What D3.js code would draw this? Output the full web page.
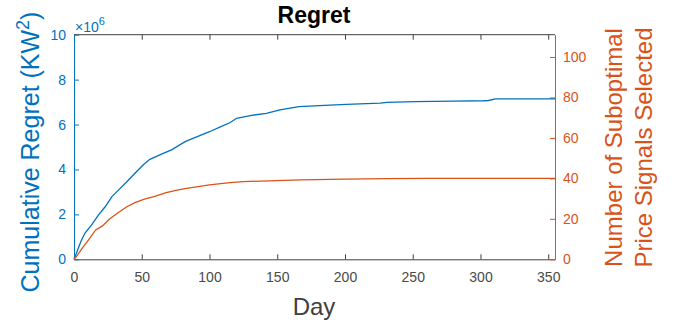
<!DOCTYPE html>
<html><head><meta charset="utf-8">
<script src="https://cdn.jsdelivr.net/npm/d3@7"></script>
<style>
body{margin:0;background:#fff;}
svg{display:block;font-family:"Liberation Sans",Arial,Helvetica,sans-serif;}
</style></head>
<body><svg id="c" width="677" height="327"></svg>
<script>
// Data
const regretDays   = [0,1,5,8,13,18,23,28,33,39,45,51,56,65,72,82,91,100,108,115,120,130,142,152,166,185,201,226,231,251,280,302,306,311,355];
const regretValues = [0,0.15e6,0.78e6,1.16e6,1.53e6,1.97e6,2.34e6,2.79e6,3.09e6,3.45e6,3.83e6,4.2e6,4.45e6,4.69e6,4.87e6,5.24e6,5.46e6,5.68e6,5.9e6,6.08e6,6.28e6,6.4e6,6.5e6,6.65e6,6.8e6,6.85e6,6.9e6,6.95e6,6.99e6,7.02e6,7.04e6,7.06e6,7.07e6,7.14e6,7.14e6];
const subDays   = [0,2,6,11,16,21,26,32,39,45,52,59,68,77,83,100,115,125,150,167,200,231,260,355];
const subValues = [0,1.6,5.4,9.9,14.5,16.5,19.8,22.8,26,28,29.7,31,33,34.3,35.1,36.8,37.9,38.4,38.9,39.3,39.6,39.9,40,40];
const xTicks = [0,50,100,150,200,250,300,350];
const leftTicks = [0,2,4,6,8,10];        // x 10^6
const rightTicks = [0,20,40,60,80,100];

const blue = "#0072BD", orange = "#D95319", dark = "#404040";
const L = 74, R = 555, T = 34.7, B = 259.3;
const svg = d3.select("#c");

const x = d3.scaleLinear().domain([0,355]).range([L,R]);
const yL = d3.scaleLinear().domain([0,10e6]).range([B,T]);
const yR = d3.scaleLinear().domain([0,111]).range([B,T]);

// top box line
svg.append("line").attr("x1",L).attr("x2",R).attr("y1",T).attr("y2",T).attr("stroke",dark).attr("stroke-width",1);

// bottom axis
const gx = svg.append("g").attr("transform",`translate(0,${B})`)
  .call(d3.axisBottom(x).tickValues(xTicks).tickSizeInner(-5).tickSizeOuter(0).tickPadding(13));
gx.select(".domain").attr("stroke",dark);
gx.selectAll(".tick line").attr("stroke",dark);
gx.selectAll("text").attr("fill","#4a4a4a").attr("font-size",14).attr("font-family","inherit");
// top ticks
const gt = svg.append("g").attr("transform",`translate(0,${T})`)
  .call(d3.axisTop(x).tickValues(xTicks).tickSizeInner(-5).tickSizeOuter(0).tickFormat(""));
gt.select(".domain").remove();
gt.selectAll(".tick line").attr("stroke",dark);

// left axis
const gl = svg.append("g").attr("transform",`translate(${L},0)`)
  .call(d3.axisLeft(yL).tickValues(leftTicks.map(d=>d*1e6)).tickFormat(d=>d/1e6).tickSizeInner(-5).tickSizeOuter(0).tickPadding(8));
gl.select(".domain").attr("stroke",blue);
gl.selectAll(".tick line").attr("stroke",blue);
gl.selectAll("text").attr("fill",blue).attr("font-size",14).attr("font-family","inherit");

// right axis
const gr = svg.append("g").attr("transform",`translate(${R},0)`)
  .call(d3.axisRight(yR).tickValues(rightTicks).tickSizeInner(-5).tickSizeOuter(0).tickPadding(8));
gr.select(".domain").attr("stroke",orange);
gr.selectAll(".tick line").attr("stroke",orange);
gr.selectAll("text").attr("fill",orange).attr("font-size",14).attr("font-family","inherit");

// lines
svg.append("path").datum(regretDays.map((d,i)=>[d,regretValues[i]]))
  .attr("fill","none").attr("stroke",blue).attr("stroke-width",1.3)
  .attr("d",d3.line().x(d=>x(d[0])).y(d=>yL(d[1])));
svg.append("path").datum(subDays.map((d,i)=>[d,subValues[i]]))
  .attr("fill","none").attr("stroke",orange).attr("stroke-width",1.3)
  .attr("d",d3.line().x(d=>x(d[0])).y(d=>yR(d[1])));

// exponent label
const ex = svg.append("text").attr("x",75).attr("y",32).attr("fill",blue).attr("font-size",14);
ex.append("tspan").text("\u00D710");
ex.append("tspan").attr("dy",-7).attr("font-size",11).text("6");

// title
svg.append("text").attr("x",314).attr("y",23).attr("text-anchor","middle")
  .attr("font-size",23).attr("font-weight","bold").attr("fill","#000").text("Regret");

// x label
svg.append("text").attr("x",314).attr("y",315).attr("text-anchor","middle")
  .attr("font-size",24).attr("fill",dark).text("Day");

// left label
const ll = svg.append("text").attr("transform","translate(39,152) rotate(-90)")
  .attr("text-anchor","middle").attr("font-size",25).attr("fill",blue);
ll.append("tspan").text("Cumulative Regret (KW");
ll.append("tspan").attr("dy",-10).attr("font-size",18).text("2");
ll.append("tspan").attr("dy",10).text(")");

// right labels
svg.append("text").attr("transform","translate(621.5,147.5) rotate(-90)")
  .attr("text-anchor","middle").attr("font-size",24).attr("fill",orange).text("Number of Suboptimal");
svg.append("text").attr("transform","translate(651.5,147.5) rotate(-90)")
  .attr("text-anchor","middle").attr("font-size",24).attr("fill",orange).text("Price Signals Selected");
</script></body></html>
